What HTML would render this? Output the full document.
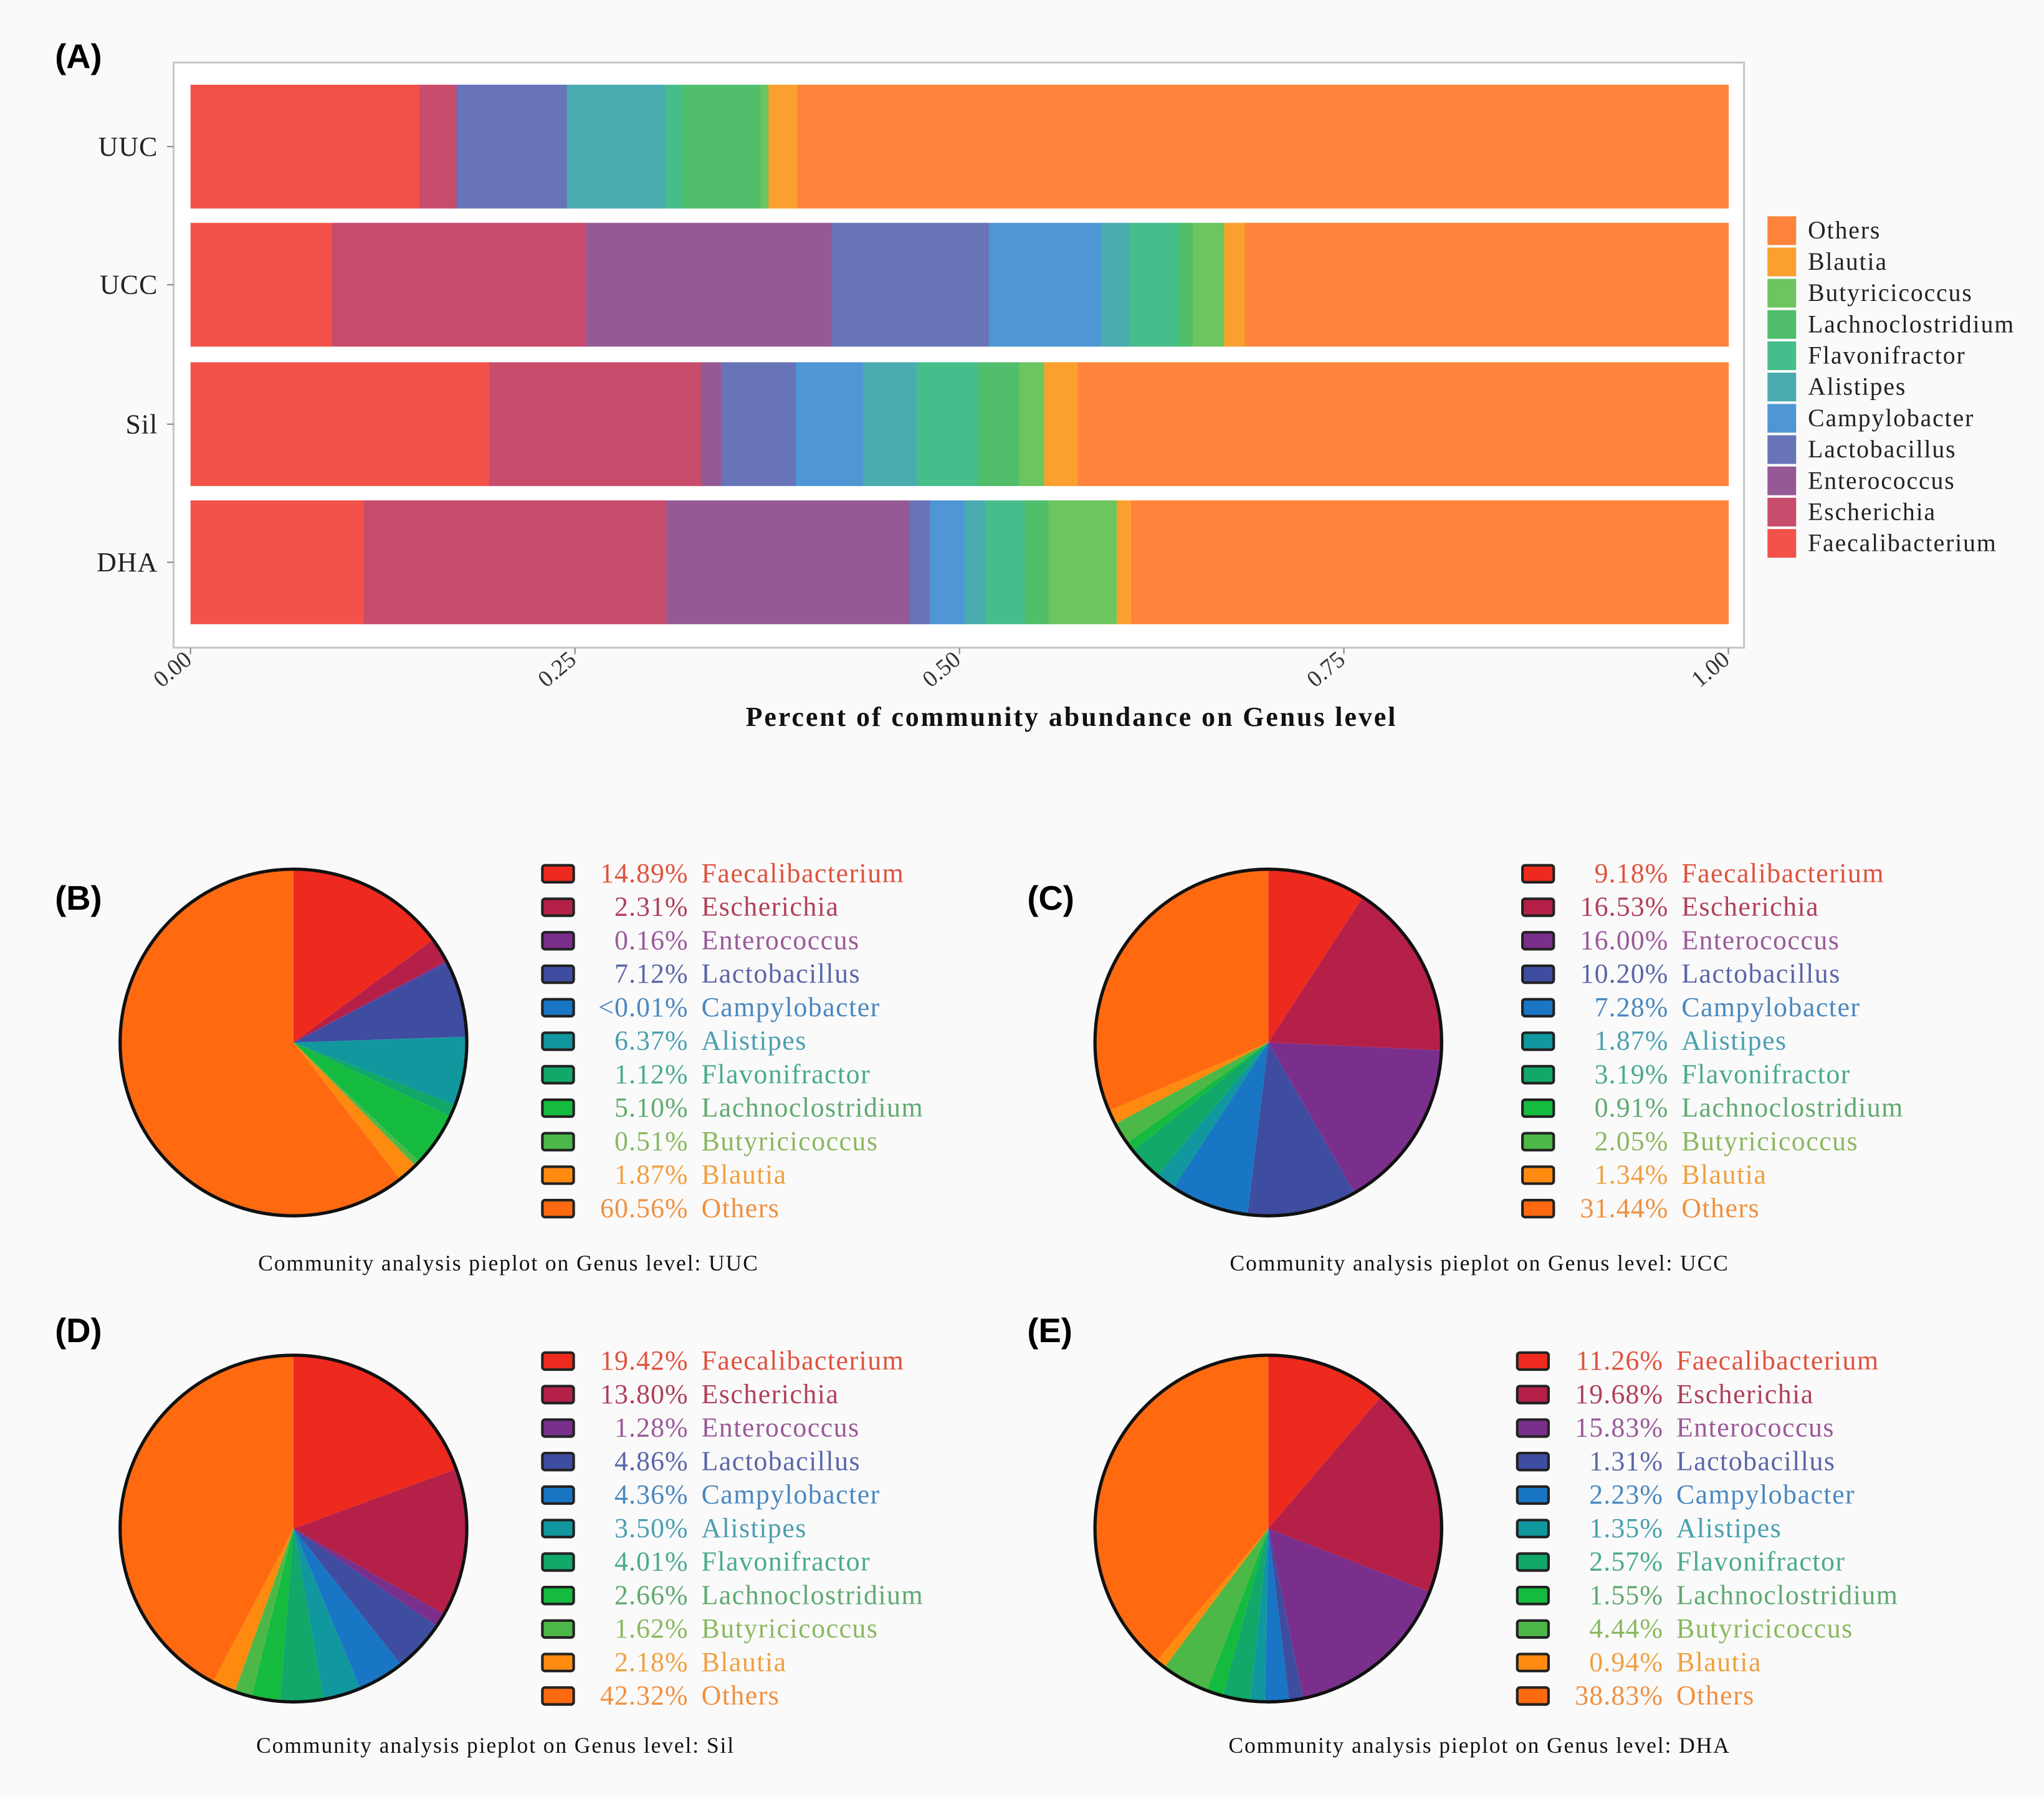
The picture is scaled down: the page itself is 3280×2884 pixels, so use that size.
<!DOCTYPE html>
<html><head><meta charset="utf-8"><style>
html,body{margin:0;padding:0;background:#fafafa}
svg{display:block}
text{font-family:"Liberation Serif",serif}
text.sans{font-family:"Liberation Sans",sans-serif}
</style></head><body>
<svg id="fig" width="3280" height="2884" viewBox="0 0 1568 1379" xmlns="http://www.w3.org/2000/svg">
<rect x="0" y="0" width="1568" height="1379" fill="#fafafa"/>
</svg>
<script>
const genera = ["Faecalibacterium","Escherichia","Enterococcus","Lactobacillus","Campylobacter","Alistipes","Flavonifractor","Lachnoclostridium","Butyricicoccus","Blautia","Others"];
const samples = ["UUC","UCC","Sil","DHA"];
const valsUUC = [14.89,2.31,0.16,7.12,0.01,6.37,1.12,5.10,0.51,1.87,60.56];
const valsUCC = [9.18,16.53,16.00,10.20,7.28,1.87,3.19,0.91,2.05,1.34,31.44];
const valsSil = [19.42,13.80,1.28,4.86,4.36,3.50,4.01,2.66,1.62,2.18,42.32];
const valsDHA = [11.26,19.68,15.83,1.31,2.23,1.35,2.57,1.55,4.44,0.94,38.83];
const labelsUUC = ["14.89%","2.31%","0.16%","7.12%","<0.01%","6.37%","1.12%","5.10%","0.51%","1.87%","60.56%"];
const labelsUCC = ["9.18%","16.53%","16.00%","10.20%","7.28%","1.87%","3.19%","0.91%","2.05%","1.34%","31.44%"];
const labelsSil = ["19.42%","13.80%","1.28%","4.86%","4.36%","3.50%","4.01%","2.66%","1.62%","2.18%","42.32%"];
const labelsDHA = ["11.26%","19.68%","15.83%","1.31%","2.23%","1.35%","2.57%","1.55%","4.44%","0.94%","38.83%"];
const xTicks = ["0.00","0.25","0.50","0.75","1.00"];

const barCol = ["#f2524a","#c84c6c","#955a96","#6775b8","#4e96d4","#4aabb0","#46be8c","#50be6a","#6cc55e","#fba02e","#fd843a"];
const pieCol = ["#ee2a1e","#b52048","#7b2f8c","#3f4da0","#1976c4","#11979e","#11a86a","#15bb3e","#4cb848","#ff8a10","#ff6a10"];
const txtCol = ["#e0523e","#b0405a","#9a5a9a","#5a66a8","#4a88c0","#4aa0b0","#4aaa90","#60aa70","#8ab860","#f0a040","#f09040"];

const svg = document.getElementById('fig');
const NS = "http://www.w3.org/2000/svg";
function mk(tag, attrs, parent, txt){
  const e = document.createElementNS(NS, tag);
  for (const k in attrs) e.setAttribute(k, attrs[k]);
  if (txt !== undefined) e.textContent = txt;
  (parent||svg).appendChild(e);
  return e;
}

// Panel A
const x0 = 146, x1 = 1326;
const xs = v => x0 + (x1 - x0) * v;
const barTops = [65,171,278,384], barH = 95;
let t = mk('text',{x:42,y:52,'font-size':26,'font-weight':'bold','class':'sans'},svg,'(A)');


let fr = mk('rect',{x:133,y:48,width:1205,height:449,fill:'#fff',stroke:'#c8c8c8','stroke-width':1.5});


const allVals = [valsUUC,valsUCC,valsSil,valsDHA];
samples.forEach((s,i)=>{
  const g = mk('g',{});
  
  
  const vals = allVals[i];
  const tot = vals.reduce((a,b)=>a+b,0);
  let cum = 0;
  vals.forEach((v,j)=>{
    const r = mk('rect',{x:xs(cum/tot),y:barTops[i],width:Math.max(0,xs((cum+v)/tot)-xs(cum/tot))+0.3,height:barH,fill:barCol[j]},g);
    
    
    cum += v;
  });
  const yl = mk('text',{x:121,y:barTops[i]+barH/2+7,'font-size':21,'text-anchor':'end',fill:'#222','letter-spacing':0.5},svg,s);
  
  
  mk('line',{x1:128,x2:133,y1:barTops[i]+barH/2,y2:barTops[i]+barH/2,stroke:'#888'});
});
xTicks.forEach((tk,i)=>{
  const x = xs(parseFloat(tk));
  mk('line',{x1:x,x2:x,y1:497,y2:502,stroke:'#888'});
  const tl = mk('text',{x:x+2,y:508,'font-size':18,'text-anchor':'end',fill:'#333',transform:`rotate(-40 ${x+2} 508)`},svg,tk);
  
  
});
t = mk('text',{x:822,y:557,'font-size':21,'font-weight':'bold','text-anchor':'middle',fill:'#111','letter-spacing':1.4},svg,'Percent of community abundance on Genus level');


// bar legend
for (let k=0;k<11;k++){
  const j = 10-k;
  const y = 166 + k*24;
  const g = mk('g',{});
  
  
  mk('rect',{x:1356,y:y,width:22,height:22,fill:barCol[j]},g);
  mk('text',{x:1387,y:y+17,'font-size':19,fill:'#222','letter-spacing':0.9},g,genera[j]);
}

// Pies
const pies = [
  {lab:'(B)',lx:42,ly:698,cx:225,cy:800,vals:valsUUC,labels:labelsUUC,bx:415,ly0:670,name:'UUC',capx:390,capy:975},
  {lab:'(C)',lx:788,ly:698,cx:973,cy:800,vals:valsUCC,labels:labelsUCC,bx:1167,ly0:670,name:'UCC',capx:1135,capy:975},
  {lab:'(D)',lx:42,ly:1030,cx:225,cy:1173,vals:valsSil,labels:labelsSil,bx:415,ly0:1044,name:'Sil',capx:380,capy:1345},
  {lab:'(E)',lx:788,ly:1030,cx:973,cy:1173,vals:valsDHA,labels:labelsDHA,bx:1163,ly0:1044,name:'DHA',capx:1135,capy:1345}
];
const R = 133;
pies.forEach(p=>{
  const pl = mk('text',{x:p.lx,y:p.ly,'font-size':26,'font-weight':'bold','class':'sans'},svg,p.lab);
  
  
  const g = mk('g',{});
  
  
  const tot = p.vals.reduce((a,b)=>a+b,0);
  let cum = 0;
  p.vals.forEach((v,j)=>{
    const a0 = cum/tot*2*Math.PI, a1 = (cum+v)/tot*2*Math.PI;
    cum += v;
    const xA = p.cx + R*Math.sin(a0), yA = p.cy - R*Math.cos(a0);
    const xB = p.cx + R*Math.sin(a1), yB = p.cy - R*Math.cos(a1);
    const large = (a1-a0) > Math.PI ? 1 : 0;
    const s = mk('path',{d:`M${p.cx},${p.cy} L${xA},${yA} A${R},${R} 0 ${large} 1 ${xB},${yB} Z`,fill:pieCol[j]},g);
    
    
  });
  mk('circle',{cx:p.cx,cy:p.cy,r:R,fill:'none',stroke:'#111','stroke-width':2.5},g);
  p.labels.forEach((lb,j)=>{
    const y = p.ly0 + j*25.7;
    const le = mk('g',{});
    
    
    mk('rect',{x:p.bx+1,y:y-6,width:24,height:13,rx:2,fill:pieCol[j],stroke:'#222','stroke-width':2},le);
    mk('text',{x:p.bx+113,y:y+7,'font-size':21,'text-anchor':'end',fill:txtCol[j],'letter-spacing':0.5},le,lb);
    mk('text',{x:p.bx+123,y:y+7,'font-size':21,fill:txtCol[j],'letter-spacing':0.7},le,genera[j]);
  });
  const c = mk('text',{x:p.capx,y:p.capy,'font-size':17,'text-anchor':'middle',fill:'#111','letter-spacing':0.9},svg,'Community analysis pieplot on Genus level: '+p.name);
  
  
});
</script>
</body></html>
